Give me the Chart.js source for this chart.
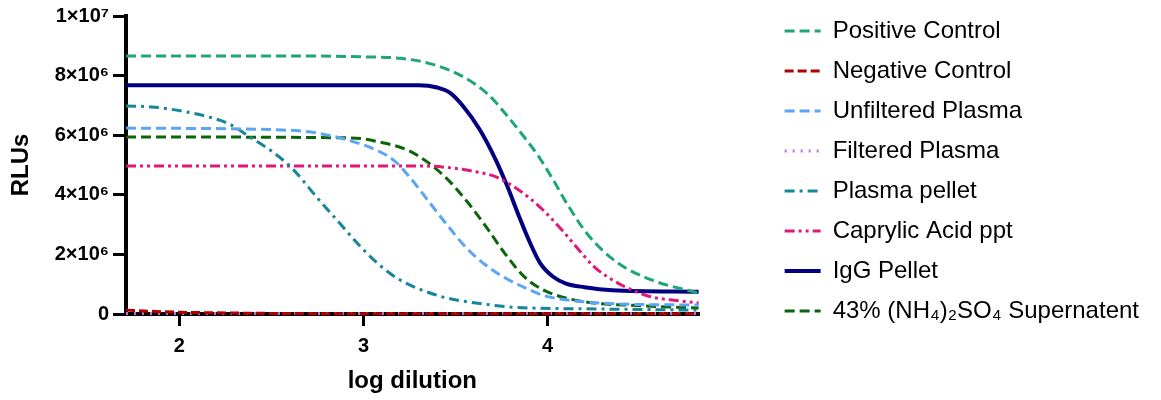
<!DOCTYPE html>
<html>
<head>
<meta charset="utf-8">
<script src="https://cdn.jsdelivr.net/npm/chart.js@4"></script>
<style>
  body { margin: 0; background: #fff; }
  #wrap { width: 1161px; height: 400px; }
</style>
</head>
<body>
<div id="wrap"><canvas id="chart"></canvas></div>
<script>
// values, RLUs in millions
const seriesNames = [
  "Positive Control", "Negative Control", "Unfiltered Plasma", "Filtered Plasma",
  "Plasma pellet", "Caprylic Acid ppt", "IgG Pellet", "43% (NH\u2084)\u2082SO\u2084 Supernatent",
];

const posX = [1.71, 2.5, 3.0, 3.2, 3.35, 3.53, 3.68, 3.78, 3.89, 3.95, 4.03, 4.11, 4.22, 4.38, 4.56, 4.82];
const posY = [8.66, 8.66, 8.63, 8.58, 8.42, 8.0, 7.35, 6.65, 5.8, 5.3, 4.5, 3.65, 2.65, 1.72, 1.15, 0.7];

const negX = [1.71, 1.85, 2.0, 2.2, 2.5, 3.0, 4.0, 4.82];
const negY = [0.13, 0.09, 0.06, 0.04, 0.02, 0.01, 0.01, 0.01];

const unfX = [1.71, 2.58, 2.75, 2.93, 3.08, 3.17, 3.25, 3.34, 3.45, 3.56, 3.67, 3.77, 3.88, 3.99, 4.15, 4.37, 4.82];
const unfY = [6.24, 6.17, 6.07, 5.81, 5.47, 5.13, 4.6, 3.89, 3.02, 2.21, 1.61, 1.21, 0.87, 0.6, 0.44, 0.34, 0.3];

const filX = [1.71, 3.0, 4.82];
const filY = [0.02, 0.02, 0.02];

const pelX = [1.71, 1.85, 2.04, 2.16, 2.27, 2.39, 2.5, 2.61, 2.75, 2.86, 2.97, 3.08, 3.18, 3.29, 3.45, 3.61, 3.81, 4.26, 4.82];
const pelY = [6.98, 6.95, 6.78, 6.61, 6.38, 5.91, 5.47, 4.9, 3.89, 3.12, 2.35, 1.68, 1.21, 0.87, 0.54, 0.37, 0.23, 0.17, 0.13];

const capX = [1.71, 3.3, 3.45, 3.63, 3.72, 3.81, 3.9, 3.99, 4.08, 4.17, 4.25, 4.35, 4.46, 4.56, 4.7, 4.82];
const capY = [4.97, 4.97, 4.92, 4.75, 4.6, 4.3, 3.9, 3.4, 2.8, 2.15, 1.6, 1.15, 0.8, 0.58, 0.45, 0.37];

const iggX = [1.71, 3.3, 3.4, 3.47, 3.54, 3.63, 3.72, 3.78, 3.84, 3.9, 3.96, 4.03, 4.1, 4.2, 4.35, 4.82];
const iggY = [7.68, 7.68, 7.6, 7.42, 6.98, 6.2, 5.15, 4.3, 3.35, 2.45, 1.7, 1.25, 1.02, 0.9, 0.8, 0.75];

const supX = [1.71, 2.93, 3.11, 3.24, 3.34, 3.45, 3.56, 3.67, 3.77, 3.88, 3.99, 4.17, 4.53, 4.82];
const supY = [5.94, 5.91, 5.74, 5.5, 5.13, 4.56, 3.79, 2.89, 2.01, 1.21, 0.77, 0.44, 0.27, 0.2];

const xTicks = [2, 3, 4];
const yTicks = [0, 2, 4, 6, 8, 10];

const FONT = "'Liberation Sans', Arial, sans-serif";

function pts(xs, ys) {
  return xs.map((x, i) => ({ x, y: ys[i] }));
}

function line(i, xs, ys, color, dash, width) {
  return {
    label: seriesNames[i],
    data: pts(xs, ys),
    borderColor: color,
    backgroundColor: color,
    borderDash: dash,
    borderWidth: width || 3,
    pointRadius: 0,
    cubicInterpolationMode: "monotone",
    fill: false,
    clip: false,
  };
}

const datasets = [
  line(0, posX, posY, "#1ea578", [10, 5]),
  line(1, negX, negY, "#b00000", [9, 4]),
  line(2, unfX, unfY, "#5aa5f5", [10, 5]),
  line(3, filX, filY, "#c06ee6", [2, 6]),
  line(4, pelX, pelY, "#16869a", [10, 5, 3, 5]),
  line(5, capX, capY, "#e0187a", [10, 4, 3, 4, 3, 4]),
  line(6, iggX, iggY, "#000080", [], 4),
  line(7, supX, supY, "#0a650a", [10, 5]),
];

function yLabel(v) {
  if (v === 0) return "0";
  if (v === 10) return "1\u00d710\u2077";
  return v + "\u00d710\u2076";
}

// legend entries keep the dataset's dash pattern
function legendItems(chart) {
  return chart.data.datasets.map((ds, i) => ({
    text: ds.label,
    datasetIndex: i,
    strokeStyle: ds.borderColor,
    fillStyle: ds.borderColor,
    lineWidth: ds.borderWidth,
    lineDash: ds.borderDash,
    lineCap: "butt",
    pointStyle: "line",
    fontColor: "#000",
    hidden: false,
  }));
}

new Chart(document.getElementById("chart"), {
  type: "line",
  data: { datasets },
  options: {
    responsive: true,
    maintainAspectRatio: false,
    animation: false,
    layout: { padding: { top: 3, right: 12, bottom: 0, left: 0 } },
    plugins: {
      tooltip: { enabled: false },
      legend: {
        position: "right",
        align: "start",
        maxWidth: 420,
        labels: {
          usePointStyle: true,
          pointStyle: "line",
          pointStyleWidth: 36,
          padding: 16,
          color: "#000",
          font: { family: FONT, size: 24 },
          generateLabels: legendItems,
        },
      },
    },
    scales: {
      x: {
        type: "linear",
        min: 1.71,
        max: 4.82,
        afterBuildTicks: (s) => { s.ticks = xTicks.map((v) => ({ value: v })); },
        afterFit: (s) => { s.height = 86; },
        border: { display: true, color: "#000", width: 4 },
        grid: { drawOnChartArea: false, drawTicks: true, tickLength: 12, color: "#000", lineWidth: 3 },
        ticks: { color: "#000", padding: 8, font: { family: FONT, size: 20, weight: "bold" }, callback: (v) => String(v) },
        title: { display: true, text: "log dilution", color: "#000", padding: { top: 0, bottom: 4 }, font: { family: FONT, size: 24, weight: "bold" } },
      },
      y: {
        min: 0,
        max: 10,
        afterBuildTicks: (s) => { s.ticks = yTicks.map((v) => ({ value: v })); },
        afterFit: (s) => { s.width = 126; },
        border: { display: true, color: "#000", width: 4 },
        grid: { drawOnChartArea: false, drawTicks: true, tickLength: 13, color: "#000", lineWidth: 3 },
        ticks: { color: "#000", padding: 4, font: { family: FONT, size: 20, weight: "bold", lineHeight: 1.2 }, callback: yLabel },
        title: { display: true, text: "RLUs", color: "#000", padding: { top: 7, bottom: 0 }, font: { family: FONT, size: 24, weight: "bold" } },
      },
      gap: {
        type: "linear",
        position: "right",
        display: true,
        afterFit: (s) => { s.width = 70; },
        border: { display: false },
        grid: { display: false },
        ticks: { display: false },
      },
    },
  },
});
</script>
</body>
</html>
